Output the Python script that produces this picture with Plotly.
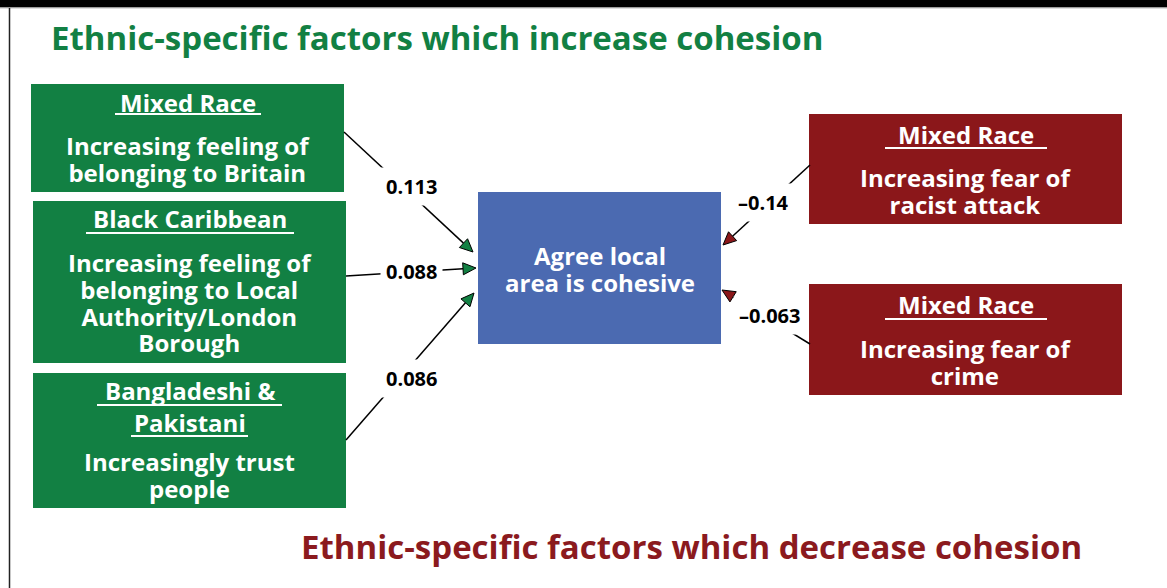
import math
import plotly.graph_objects as go

# ---------------- data ----------------
pos_groups = [["Mixed Race"], ["Black Caribbean"], ["Bangladeshi &", "Pakistani"]]
pos_factors = [["Increasing feeling of", "belonging to Britain"],
               ["Increasing feeling of", "belonging to Local", "Authority/London", "Borough"],
               ["Increasingly trust", "people"]]
pos_coefs = [0.113, 0.088, 0.086]

neg_groups = [["Mixed Race"], ["Mixed Race"]]
neg_factors = [["Increasing fear of", "racist attack"], ["Increasing fear of", "crime"]]
neg_coefs = [-0.14, -0.063]

outcome = ["Agree local", "area is cohesive"]
title_pos = "Ethnic-specific factors which increase cohesion"
title_neg = "Ethnic-specific factors which decrease cohesion"

# ---------------- style / layout ----------------
W, H = 1167, 588
GREEN = "#128043"
RED = "#8B171A"
BLUE = "#4B6AB1"
FONT = "Open Sans"
BOX_FS = 24
LAB_FS = 20
TITLE_FS = 33
LINE_H = 26.8

# box rectangles (x0, y0, x1, y1) in pixels
pos_boxes = [(31, 84, 344, 192), (33, 201, 346, 363), (33, 373, 346, 508)]
neg_boxes = [(809, 114, 1122, 224), (809, 284, 1122, 395)]
center_box = (478, 192, 721, 344)

# heading line centres, body centre y, underline (x0,x1,y) list
pos_text = [([102], 159, [(115, 261, 114)]),
            ([218], 302.5, [(86, 294, 233)]),
            ([390, 422], 474.5, [(97, 282, 405), (131, 248, 436)])]
neg_text = [([134], 191, [(885, 1047, 148)]),
            ([304], 362, [(885, 1047, 319)])]

# arrows: start point, tip point, label position
pos_arrows = [((344, 132), (473, 252), (411, 186)),
              ((346, 276), (476, 268), (411, 271)),
              ((346, 440), (474, 293), (411, 378))]
neg_arrows = [((810, 165), (723, 245), (763, 202)),
              ((810, 344), (722, 290), (769, 315))]

shapes = []
annots = []

# frame
shapes.append(dict(type="rect", x0=0, x1=W, y0=0, y1=7.5, fillcolor="black", line_width=0))
shapes.append(dict(type="line", x0=0, x1=W, y0=8, y1=8, line=dict(color="#bbbbbb", width=1)))
shapes.append(dict(type="line", x0=9.5, x1=9.5, y0=8, y1=H, line=dict(color="#222222", width=1.5)))


def box(rect, color):
    x0, y0, x1, y1 = rect
    shapes.append(dict(type="rect", x0=x0, x1=x1, y0=y0, y1=y1, fillcolor=color, line_width=0, layer="below"))


def text(x, y, s, size, color="white"):
    annots.append(dict(x=x, y=y, text="<b>" + s + "</b>", showarrow=False, xanchor="center", yanchor="middle",
                       font=dict(family=FONT, size=size, color=color)))


def lines(x, yc, items, size=BOX_FS):
    # one annotation; line pitch from the outer font size, glyphs at the inner size
    body = "<br>".join(f"<span style='font-size:{size}px'>{s}</span>" for s in items)
    annots.append(dict(x=x, y=yc, text="<b>" + body + "</b>", showarrow=False, xanchor="center",
                       yanchor="middle", font=dict(family=FONT, size=LINE_H / 1.3, color="white")))


def arrow(start, tip, color, label, lpos):
    (x1, y1), (x2, y2) = start, tip
    dx, dy = x2 - x1, y2 - y1
    L = math.hypot(dx, dy)
    ux, uy = dx / L, dy / L
    nx, ny = -uy, ux
    hl, hw = 13, 6
    bx, by = x2 - hl * ux, y2 - hl * uy
    shapes.append(dict(type="line", x0=x1, y0=y1, x1=bx, y1=by, line=dict(color="black", width=1.5)))
    path = (f"M {x2},{y2} L {bx + hw * nx},{by + hw * ny} L {bx - hw * nx},{by - hw * ny} Z")
    shapes.append(dict(type="path", path=path, fillcolor=color, line=dict(color="black", width=1)))
    annots.append(dict(x=lpos[0], y=lpos[1], text="<b>" + label + "</b>", showarrow=False,
                       xanchor="center", yanchor="middle", bgcolor="white", borderpad=5,
                       font=dict(family=FONT, size=LAB_FS, color="black")))


def fmt(v):
    s = f"{abs(v):.3f}".rstrip("0")
    if len(s.split(".")[1]) < 2:
        s = f"{abs(v):.2f}"
    return ("\u2013" if v < 0 else "") + s


def block(rect, color, groups, factors, layout_t, v, arr):
    hys, by, uls = layout_t
    st, tp, lp = arr
    box(rect, color)
    cx = (rect[0] + rect[2]) / 2
    for hy, g in zip(hys, groups):
        text(cx, hy, g, BOX_FS)
    lines(cx, by, factors)
    for ux0, ux1, uy in uls:
        shapes.append(dict(type="line", x0=ux0, x1=ux1, y0=uy, y1=uy, line=dict(color="white", width=2)))
    arrow(st, tp, color, fmt(v), lp)


for args in zip(pos_boxes, pos_groups, pos_factors, pos_text, pos_coefs, pos_arrows):
    block(args[0], GREEN, *args[1:])
for args in zip(neg_boxes, neg_groups, neg_factors, neg_text, neg_coefs, neg_arrows):
    block(args[0], RED, *args[1:])

box(center_box, BLUE)
lines((center_box[0] + center_box[2]) / 2, 268.5, outcome)

text(437, 37, title_pos, TITLE_FS, GREEN)
text(691, 546, title_neg, TITLE_FS, "#8B1A1E")

fig = go.Figure()
fig.update_layout(
    width=W, height=H, margin=dict(l=0, r=0, t=0, b=0),
    paper_bgcolor="white", plot_bgcolor="white",
    xaxis=dict(range=[0, W], visible=False, fixedrange=True),
    yaxis=dict(range=[H, 0], visible=False, fixedrange=True),
    shapes=shapes, annotations=annots, showlegend=False,
)
fig.write_html("out.html", config={"displayModeBar": False},
               post_script="document.body.style.margin='0';document.body.style.overflow='hidden';")
